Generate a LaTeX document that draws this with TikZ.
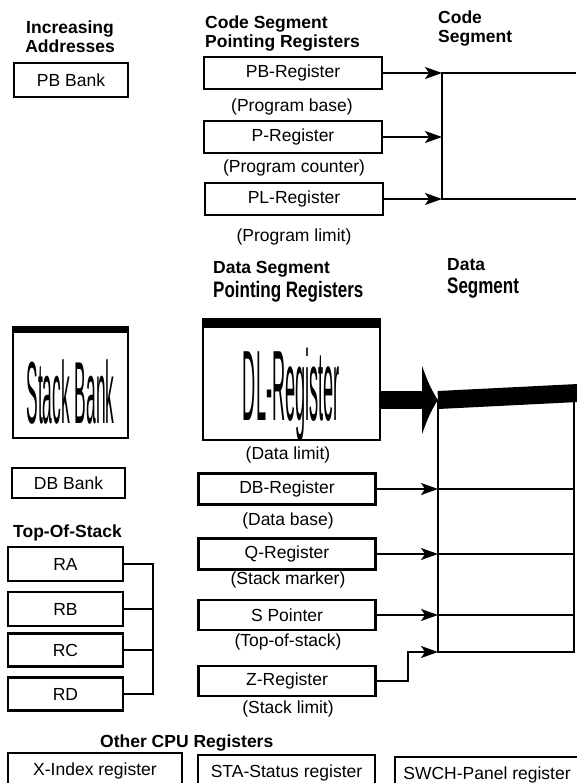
\documentclass[tikz,border=0pt]{standalone}
\usepackage{fontspec}
\setmainfont{Liberation Sans}
\usepackage{graphicx}
\usetikzlibrary{arrows.meta}
\newcommand{\regfont}{\fontsize{17.5}{19.5}\selectfont}
\newcommand{\headfont}{\fontsize{17.5}{19.5}\selectfont\bfseries}
\newcommand{\narrowhead}[1]{\scalebox{0.85}[1.12]{\fontsize{20}{20}\selectfont #1}}

\begin{document}
\begin{tikzpicture}[x=1pt, y=-1pt, >={Stealth[length=17pt,width=12pt,inset=4pt]},
		reg/.style={draw, line width=2.8pt, font=\regfont, inner sep=0pt},
		note/.style={font=\regfont, anchor=base, inner sep=0pt},
		head/.style={font=\headfont, inner sep=0pt, align=left, anchor=base west},
		link/.style={line width=1.4pt}]
	\useasboundingbox (0,0) rectangle (576,783);
	
	% Headings (anchored at the baseline of their last line)
	\node[head, align=center, anchor=base] (incr) at (70,53) {Increasing\\Addresses};
	\node[head] (codehead) at (205,48) {Code Segment\\Pointing Registers};
	\node[head] (codeseg) at (438,43) {Code\\Segment};
	\node[head] (datahead) at (213,297) {Data Segment\\[2.5pt]\narrowhead{Pointing Registers}};
	\node[head] (dataseg) at (447,293) {Data\\[3.5pt]\narrowhead{Segment}};
	\node[head] (toshead) at (13,537) {Top-Of-Stack};
	\node[head] (cpuhead) at (100,747) {Other CPU Registers};
	
	% Code segment pointing registers
	\node[reg, minimum width=114, minimum height=34] (pbbank) at (71,80) {PB Bank};
	\node[reg, minimum width=178, minimum height=32] (pbreg) at (293,73) {PB-Register};
	\node[note] (pbnote) at (292,112) {(Program base)};
	\node[reg, minimum width=178, minimum height=32] (preg) at (293,137) {P-Register};
	\node[note] (pnote) at (294,173) {(Program counter)};
	\node[reg, minimum width=178, minimum height=32] (plreg) at (294,199) {PL-Register};
	\node[note] (plnote) at (294,242) {(Program limit)};
	
	\coordinate (csx) at (442,0);
	\coordinate (csend) at (576,0);
	\coordinate (cs1) at (pbreg.east -| csx);
	\coordinate (cs2) at (preg.east -| csx);
	\coordinate (cs3) at (plreg.east -| csx);
	\draw[link, ->] (pbreg.east) -- (cs1);
	\draw[link, ->] (preg.east) -- (cs2);
	\draw[link, ->] (plreg.east) -- (cs3);
	\draw[link] (cs1 -| csend) -- (cs1) -- (cs3) -- (cs3 -| csend);
	
	% Stack bank and DL-Register
	\node[reg, minimum width=115, minimum height=110, text height=80pt, text depth=0pt] (stackbank) at (70.5,383) {\scalebox{0.435}[2.2]{\fontsize{40}{40}\selectfont Stack Bank}};
	\draw[line width=7pt] ([yshift=-3pt]stackbank.north west) -- ([yshift=-3pt]stackbank.north east);
	\node[reg, minimum width=177, minimum height=120, text height=80pt, text depth=0pt] (dlreg) at (291.5,380) {\scalebox{0.455}[2.5]{\fontsize{40}{40}\selectfont DL-Register}};
	\draw[line width=10pt] ([yshift=-4.5pt]dlreg.north west) -- ([yshift=-4.5pt]dlreg.north east);
	\node[note] (dlnote) at (288,459) {(Data limit)};
	
	% Data segment pointing registers
	\node[reg, minimum width=113, minimum height=30] (dbbank) at (68.5,483) {DB Bank};
	\node[reg, minimum width=177, minimum height=31] (dbreg) at (287,489) {DB-Register};
	\node[note] (dbnote) at (288,525) {(Data base)};
	\node[reg, minimum width=177, minimum height=31] (qreg) at (287,554) {Q-Register};
	\node[note] (qnote) at (288,584) {(Stack marker)};
	\node[reg, minimum width=177, minimum height=30] (sptr) at (287,615) {S Pointer};
	\node[note] (snote) at (288,646) {(Top-of-stack)};
	\node[reg, minimum width=177, minimum height=30] (zreg) at (287,681) {Z-Register};
	\node[note] (znote) at (288,713) {(Stack limit)};
	
	\coordinate (ds0) at (438,400);
	\coordinate (dsend) at (574,0);
	\coordinate (dsr0) at (578,393);
	\coordinate (ds1) at (dbreg.east -| ds0);
	\coordinate (ds2) at (qreg.east -| ds0);
	\coordinate (ds3) at (sptr.east -| ds0);
	\coordinate (ds4) at (438,652);
	\draw[line width=18pt, -{Latex[length=16pt,width=74pt]}] (dlreg.east |- ds0) -- (ds0);
	\draw[line width=18pt] (ds0) -- (dsr0);
	\draw[link, ->] (dbreg.east) -- (ds1);
	\draw[link, ->] (qreg.east) -- (ds2);
	\draw[link, ->] (sptr.east) -- (ds3);
	\draw[link, ->] (zreg.east) -- ++(31,0) |- (ds4);
	\draw[link] (ds0) -- (ds4) -- (ds4 -| dsend) -- (dsr0 -| dsend);
	\draw[link] (ds1) -- (ds1 -| dsend);
	\draw[link] (ds2) -- (ds2 -| dsend);
	\draw[link] (ds3) -- (ds3 -| dsend);
	
	% Top-of-stack registers
	\node[reg, minimum width=115, minimum height=34] (ra) at (65.5,564) {RA};
	\node[reg, minimum width=115, minimum height=34] (rb) at (65.5,609) {RB};
	\node[reg, minimum width=115, minimum height=33] (rc) at (65.5,650) {RC};
	\node[reg, minimum width=115, minimum height=33] (rd) at (65.5,694) {RD};
	\coordinate (tosx) at (153,0);
	\draw[link] (ra.east) -- (ra.east -| tosx) -- (rd.east -| tosx) -- (rd.east);
	\draw[link] (rb.east) -- (rb.east -| tosx);
	\draw[link] (rc.east) -- (rc.east -| tosx);
	
	% Other CPU registers
	\node[reg, minimum width=174, minimum height=36] (xidx) at (95,771) {X-Index register};
	\node[reg, minimum width=177, minimum height=36] (sta) at (286.5,773) {STA-Status register};
	\node[reg, minimum width=184, minimum height=36] (swch) at (487,775) {SWCH-Panel register};
\end{tikzpicture}
\end{document}
